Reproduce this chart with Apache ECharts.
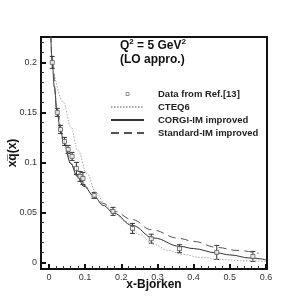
<!DOCTYPE html>
<html>
<head>
<meta charset="utf-8">
<script src="https://cdn.jsdelivr.net/npm/echarts@6/dist/echarts.min.js"></script>
<style>html,body{margin:0;padding:0;background:#fff;}#c{width:305px;height:305px;}</style>
</head>
<body>
<div id="c"></div>
<script>
// Data points (Ref.[13]) with error bars
const dataX = [0.009, 0.023, 0.032, 0.043, 0.053, 0.064, 0.076, 0.086, 0.094, 0.125, 0.177, 0.231, 0.283, 0.361, 0.464, 0.564];
const dataY = [0.200, 0.150, 0.133, 0.121, 0.113, 0.106, 0.094, 0.086, 0.084, 0.067, 0.051, 0.034, 0.0237, 0.0137, 0.010, 0.006];
const dataErr = [0.006, 0.004, 0.004, 0.004, 0.004, 0.004, 0.006, 0.005, 0.006, 0.003, 0.004, 0.005, 0.0045, 0.004, 0.007, 0.005];

// CTEQ6 (dotted)
const cteqX = [0.015, 0.04, 0.06, 0.08, 0.105, 0.13, 0.155, 0.18, 0.21, 0.25, 0.29, 0.33, 0.37, 0.42, 0.47, 0.53, 0.60];
const cteqY = [0.188, 0.160, 0.136, 0.112, 0.089, 0.070, 0.058, 0.050, 0.041, 0.028, 0.018, 0.012, 0.008, 0.005, 0.003, 0.0018, 0.001];

// CORGI-IM improved (solid)
const corgiX = [0.005, 0.009, 0.015, 0.023, 0.032, 0.042, 0.060, 0.078, 0.097, 0.125, 0.150, 0.180, 0.230, 0.289, 0.363, 0.40, 0.464, 0.50, 0.556, 0.60];
const corgiY = [0.228, 0.200, 0.175, 0.149, 0.131, 0.119, 0.099, 0.086, 0.076, 0.066, 0.057, 0.049, 0.037, 0.0244, 0.016, 0.0138, 0.0095, 0.0075, 0.0044, 0.0027];

// Standard-IM improved (dashed)
const stdX = [0.005, 0.009, 0.023, 0.042, 0.060, 0.078, 0.097, 0.125, 0.150, 0.180, 0.231, 0.283, 0.36, 0.40, 0.464, 0.52, 0.58];
const stdY = [0.228, 0.200, 0.149, 0.119, 0.099, 0.087, 0.077, 0.066, 0.059, 0.051, 0.0427, 0.0327, 0.024, 0.021, 0.015, 0.012, 0.009];

const xTicks = [0, 0.1, 0.2, 0.3, 0.4, 0.5, 0.6];
const xMinorTicks = [0.02, 0.04, 0.06, 0.08, 0.12, 0.14, 0.16, 0.18, 0.22, 0.24, 0.26, 0.28, 0.32, 0.34, 0.36, 0.38, 0.42, 0.44, 0.46, 0.48, 0.52, 0.54, 0.56, 0.58];
const yTicks = [0, 0.05, 0.1, 0.15, 0.2];
const yMinorTicks = [0.01, 0.02, 0.03, 0.04, 0.06, 0.07, 0.08, 0.09, 0.11, 0.12, 0.13, 0.14, 0.16, 0.17, 0.18, 0.19, 0.21, 0.22];

const names = ['Data from Ref.[13]', 'CTEQ6', 'CORGI-IM improved', 'Standard-IM improved'];

const zip = (a, b) => a.map((v, i) => [v, b[i]]);
const FONT = 'Liberation Sans, Arial, Helvetica, sans-serif';

const chart = echarts.init(document.getElementById('c'), null, {renderer: 'canvas'});
const xMin = -0.022, xMax = 0.603, yMin = -0.0066, yMax = 0.2254;

chart.setOption({
  animation: false,
  backgroundColor: '#fff',
  grid: {left: 41, right: 38, top: 37, bottom: 36, show: true, borderColor: '#111', borderWidth: 2,
         backgroundColor: 'transparent', containLabel: false, outerBoundsMode: 'none'},
  title: [
    {text: '{a|Q}{s|2}{a| = 5 GeV}{s|2}', left: 120, top: 38, padding: 0,
      textStyle: {rich: {a: {fontFamily: FONT, fontSize: 12, fontWeight: 'bold', color: '#111', lineHeight: 14, verticalAlign: 'bottom'},
                         s: {fontFamily: FONT, fontSize: 8, fontWeight: 'bold', color: '#111', lineHeight: 14, verticalAlign: 'top'}}}},
    {text: '(LO appro.)', left: 120, top: 54, padding: 0, textStyle: {fontFamily: FONT, fontSize: 12, fontWeight: 'bold', color: '#111'}}
  ],
  legend: {
    orient: 'vertical', left: 110, top: 89, padding: 0, itemWidth: 33, itemHeight: 3, itemGap: 3,
    data: [
      {name: names[0], icon: 'path://M0,0H10V10H0Z', itemStyle: {color: '#fff', borderColor: '#777', borderWidth: 1}},
      {name: names[1], itemStyle: {color: 'transparent', borderWidth: 0}},
      {name: names[2], itemStyle: {color: 'transparent', borderWidth: 0}},
      {name: names[3], itemStyle: {color: 'transparent', borderWidth: 0}}
    ],
    textStyle: {fontFamily: FONT, fontSize: 9.5, fontWeight: 'bold', color: '#222', padding: [0, 0, 0, 9], lineHeight: 10}
  },
  xAxis: [
    {type: 'value', min: xMin, max: xMax, position: 'bottom',
      name: 'x-Bjorken', nameLocation: 'middle', nameGap: 10, nameMoveOverlap: false,
      nameTextStyle: {fontFamily: FONT, fontSize: 12, fontWeight: 'bold', color: '#111'},
      axisLine: {show: true, onZero: false, lineStyle: {color: '#111', width: 2}},
      axisTick: {show: true, inside: true, length: 5, customValues: xTicks, lineStyle: {color: '#111', width: 2}},
      axisLabel: {show: true, customValues: xTicks, margin: 4, fontFamily: FONT, fontSize: 9, color: '#333', formatter: v => String(v)},
      splitLine: {show: false}},
    {type: 'value', min: xMin, max: xMax, position: 'bottom', offset: 0,
      axisLine: {show: false, onZero: false}, axisLabel: {show: false}, splitLine: {show: false},
      axisTick: {show: true, inside: true, length: 3, customValues: xMinorTicks, lineStyle: {color: '#333', width: 1}}}
  ],
  yAxis: [
    {type: 'value', min: yMin, max: yMax, position: 'left',
      name: 'xq\u0305(x)', nameLocation: 'middle', nameGap: 22, nameRotate: 90, nameMoveOverlap: false,
      nameTextStyle: {fontFamily: FONT, fontSize: 12, fontWeight: 'bold', color: '#111'},
      axisLine: {show: true, onZero: false, lineStyle: {color: '#111', width: 2}},
      axisTick: {show: true, inside: true, length: 5, customValues: yTicks, lineStyle: {color: '#111', width: 2}},
      axisLabel: {show: true, customValues: yTicks, margin: 4, fontFamily: FONT, fontSize: 9, color: '#333', formatter: v => String(v)},
      splitLine: {show: false}},
    {type: 'value', min: yMin, max: yMax, position: 'left', offset: 0,
      axisLine: {show: false, onZero: false}, axisLabel: {show: false}, splitLine: {show: false},
      axisTick: {show: true, inside: true, length: 3, customValues: yMinorTicks, lineStyle: {color: '#333', width: 1}}}
  ],
  series: [
    {name: names[1], type: 'line', data: zip(cteqX, cteqY), smooth: 0.4, smoothMonotone: 'x', symbol: 'none', clip: true,
      lineStyle: {color: '#aaa', width: 1, type: [1.5, 1.5]}, itemStyle: {color: '#aaa'}},
    {name: names[2], type: 'line', data: zip(corgiX, corgiY), smooth: 0.4, smoothMonotone: 'x', symbol: 'none', clip: true,
      lineStyle: {color: '#333', width: 1}, itemStyle: {color: '#333'}},
    {name: names[3], type: 'line', data: zip(stdX, stdY), smooth: 0.4, smoothMonotone: 'x', symbol: 'none', clip: true,
      lineStyle: {color: '#555', width: 1, type: [8, 5]}, itemStyle: {color: '#555'}},
    {name: 'err', type: 'custom', clip: true,
      data: dataX.map((x, i) => [x, dataY[i], dataErr[i]]),
      renderItem: function (params, api) {
        const x = api.value(0), y = api.value(1), e = api.value(2);
        const t = api.coord([x, y + e]), b = api.coord([x, y - e]);
        const w = 2.5;
        const st = {stroke: '#333', lineWidth: 1};
        return {type: 'group', children: [
          {type: 'line', shape: {x1: t[0], y1: t[1], x2: b[0], y2: b[1]}, style: st},
          {type: 'line', shape: {x1: t[0] - w, y1: t[1], x2: t[0] + w, y2: t[1]}, style: st},
          {type: 'line', shape: {x1: b[0] - w, y1: b[1], x2: b[0] + w, y2: b[1]}, style: st}
        ]};
      }},
    {name: names[0], type: 'scatter', data: zip(dataX, dataY), symbol: 'rect', symbolSize: 4, z: 5,
      itemStyle: {color: '#fff', borderColor: '#555', borderWidth: 1}}
  ]
});
</script>
</body>
</html>
